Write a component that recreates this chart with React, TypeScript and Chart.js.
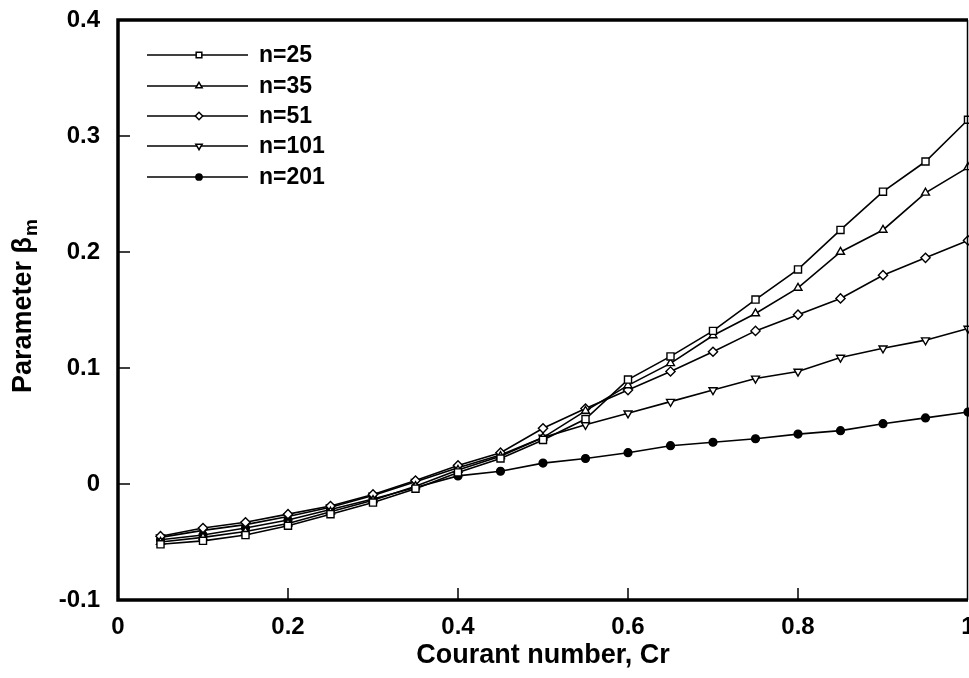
import React, { useEffect, useRef } from 'react';
import { Chart, registerables } from 'chart.js';
import { drawPoint } from 'chart.js/helpers';

Chart.register(...registerables);

// ---- data ----
const courant = [0.05, 0.1, 0.15, 0.2, 0.25, 0.3, 0.35, 0.4, 0.45, 0.5, 0.55, 0.6, 0.65, 0.7, 0.75, 0.8, 0.85, 0.9, 0.95, 1.0];
const seriesLabels = ['n=25', 'n=35', 'n=51', 'n=101', 'n=201'];
const n25 = [-0.052, -0.049, -0.044, -0.036, -0.026, -0.016, -0.004, 0.010, 0.022, 0.038, 0.056, 0.090, 0.110, 0.132, 0.159, 0.185, 0.219, 0.252, 0.278, 0.314];
const n35 = [-0.050, -0.046, -0.041, -0.034, -0.024, -0.014, -0.002, 0.012, 0.024, 0.040, 0.063, 0.085, 0.104, 0.128, 0.147, 0.169, 0.200, 0.219, 0.251, 0.273];
const n51 = [-0.045, -0.038, -0.033, -0.026, -0.019, -0.009, 0.003, 0.016, 0.027, 0.048, 0.065, 0.081, 0.097, 0.114, 0.132, 0.146, 0.160, 0.180, 0.195, 0.210];
const n101 = [-0.046, -0.040, -0.035, -0.028, -0.020, -0.010, 0.002, 0.014, 0.025, 0.040, 0.051, 0.061, 0.071, 0.081, 0.091, 0.097, 0.109, 0.117, 0.124, 0.134];
const n201 = [-0.048, -0.044, -0.038, -0.031, -0.022, -0.013, -0.003, 0.007, 0.011, 0.018, 0.022, 0.027, 0.033, 0.036, 0.039, 0.043, 0.046, 0.052, 0.057, 0.062];
const seriesValues = [n25, n35, n51, n101, n201];
const xTicks = [0, 0.2, 0.4, 0.6, 0.8, 1];
const yTicks = [-0.1, 0, 0.1, 0.2, 0.3, 0.4];
const xTitle = 'Courant number, Cr';
const yTitleMain = 'Parameter β';
const yTitleSub = 'm';

// ---- styles ----
const pointStyles = ['rect', 'triangle', 'rectRot', 'triangle', 'circle'];
const pointRotations = [0, 0, 0, 180, 0];
const pointFills = ['#ffffff', '#ffffff', '#ffffff', '#ffffff', '#000000'];
const pointRadii = [5, 4.6, 4.6, 4.6, 3.9];
const FONT = "'Liberation Sans', Arial, Helvetica, sans-serif";

const fmt = (v: number) => {
  const r = Math.round(v * 10) / 10;
  if (r === 0) return '0';
  if (r === 1) return '1';
  return r.toFixed(1);
};

const framePlugin = {
  id: 'framePlugin',
  afterDraw(chart: any) {
    const { ctx, chartArea } = chart;
    const { left, right, top, bottom } = chartArea;
    const xs = chart.scales.x;
    const ys = chart.scales.y;
    ctx.save();
    ctx.strokeStyle = '#000';
    // inward ticks
    ctx.lineWidth = 1.5;
    ctx.beginPath();
    yTicks.forEach((v) => {
      const py = ys.getPixelForValue(v);
      if (Math.abs(py - top) < 2 || Math.abs(py - bottom) < 2) return;
      ctx.moveTo(left, py);
      ctx.lineTo(left + 12, py);
    });
    xTicks.forEach((v) => {
      const px = xs.getPixelForValue(v);
      if (Math.abs(px - left) < 2 || Math.abs(px - right) < 2) return;
      ctx.moveTo(px, bottom);
      ctx.lineTo(px, bottom - 12);
    });
    ctx.stroke();
    // frame
    ctx.lineWidth = 3.5;
    ctx.beginPath();
    ctx.moveTo(right, top);
    ctx.lineTo(left, top);
    ctx.lineTo(left, bottom);
    ctx.lineTo(right, bottom);
    ctx.stroke();
    ctx.lineWidth = 1.5;
    ctx.beginPath();
    ctx.moveTo(right - 0.5, top);
    ctx.lineTo(right - 0.5, bottom);
    ctx.stroke();

    // legend
    const rows = [55, 86, 116, 146, 177];
    chart.data.datasets.forEach((ds: any, i: number) => {
      const y = rows[i];
      ctx.lineWidth = 1.5;
      ctx.strokeStyle = '#000';
      ctx.beginPath();
      ctx.moveTo(147, y);
      ctx.lineTo(248, y);
      ctx.stroke();
      ctx.fillStyle = pointFills[i];
      ctx.strokeStyle = '#000';
      drawPoint(ctx, {
        pointStyle: pointStyles[i],
        rotation: pointRotations[i],
        radius: pointRadii[i] * 0.8,
        borderWidth: 1.3,
      } as any, 199, y);
      ctx.fillStyle = '#000';
      ctx.font = `bold 23px ${FONT}`;
      ctx.textAlign = 'left';
      ctx.textBaseline = 'middle';
      ctx.fillText(ds.label, 259, y + 1);
    });

    // x title
    ctx.fillStyle = '#000';
    ctx.font = `bold 27px ${FONT}`;
    ctx.textAlign = 'center';
    ctx.textBaseline = 'middle';
    ctx.fillText(xTitle, (left + right) / 2, 656);

    // y title (rotated, with subscript)
    ctx.save();
    ctx.translate(24, 393);
    ctx.rotate(-Math.PI / 2);
    ctx.textAlign = 'left';
    ctx.textBaseline = 'middle';
    ctx.font = `bold 27px ${FONT}`;
    ctx.fillText(yTitleMain, 0, 0);
    const w = ctx.measureText(yTitleMain).width;
    ctx.font = `bold 19px ${FONT}`;
    ctx.fillText(yTitleSub, w + 1, 8);
    ctx.restore();

    ctx.restore();
  },
};

export default function App() {
  const ref = useRef<HTMLCanvasElement | null>(null);
  useEffect(() => {
    if (!ref.current) return;
    const datasets = seriesLabels.map((label, i) => ({
      label,
      data: courant.map((x, j) => ({ x, y: seriesValues[i][j] })),
      borderColor: '#000',
      borderWidth: 1.6,
      backgroundColor: pointFills[i],
      pointStyle: pointStyles[i],
      pointRotation: pointRotations[i],
      pointRadius: pointRadii[i],
      pointBorderWidth: 1.4,
      pointBorderColor: '#000',
      pointBackgroundColor: pointFills[i],
      tension: 0,
      fill: false,
      clip: false as any,
    }));
    const chart = new Chart(ref.current, {
      type: 'line',
      data: { datasets },
      options: {
        animation: false,
        responsive: false,
        layout: { autoPadding: false, padding: { left: 0, right: 1, top: 20, bottom: 0 } },
        plugins: { legend: { display: false }, tooltip: { enabled: false } },
        scales: {
          x: {
            type: 'linear',
            min: 0,
            max: 1,
            afterBuildTicks: (s: any) => {
              s.ticks = xTicks.map((v) => ({ value: v }));
            },
            afterFit: (s: any) => {
              s.height = 78;
              s.paddingLeft = 0;
              s.paddingRight = 0;
              s.paddingTop = 0;
              s.paddingBottom = 0;
            },
            grid: { display: false, drawTicks: false },
            border: { display: false },
            ticks: {
              callback: (v: any) => fmt(Number(v)),
              color: '#000',
              font: { family: FONT, size: 24, weight: 'bold' },
              padding: 13,
              maxRotation: 0,
              autoSkip: false,
            },
          },
          y: {
            type: 'linear',
            min: -0.1,
            max: 0.4,
            afterBuildTicks: (s: any) => {
              s.ticks = yTicks.map((v) => ({ value: v }));
            },
            afterFit: (s: any) => {
              s.width = 118;
              s.paddingLeft = 0;
              s.paddingRight = 0;
              s.paddingTop = 0;
              s.paddingBottom = 0;
            },
            grid: { display: false, drawTicks: false },
            border: { display: false },
            ticks: {
              callback: (v: any) => fmt(Number(v)),
              color: '#000',
              font: { family: FONT, size: 24, weight: 'bold' },
              padding: 18,
              autoSkip: false,
            },
          },
        },
      },
      plugins: [framePlugin],
    } as any);
    return () => chart.destroy();
  }, []);
  return (
    <div style={{ position: 'fixed', left: 0, top: 0, width: 969, height: 678, background: '#fff' }}>
      <canvas ref={ref} width={969} height={678} style={{ display: 'block', width: 969, height: 678 }} />
    </div>
  );
}
